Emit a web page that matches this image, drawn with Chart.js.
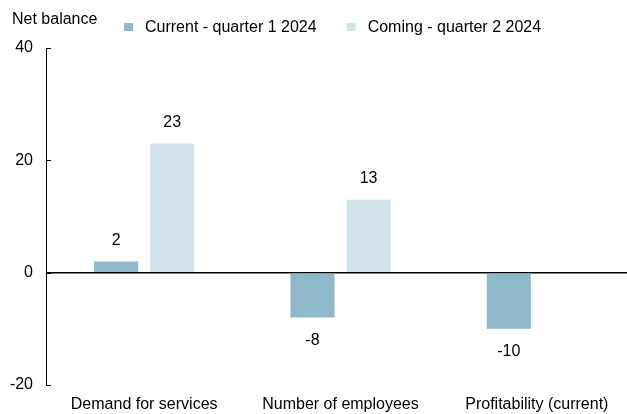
<!DOCTYPE html>
<html>
<head>
<meta charset="utf-8">
<script src="https://cdn.jsdelivr.net/npm/chart.js@4"></script>
<style>
  body { margin: 0; background: #fff; }
  #wrap { width: 627px; height: 414px; overflow: hidden; }
</style>
</head>
<body>
<div id="wrap"><canvas id="balance" width="636" height="414"></canvas></div>
<script>
const categories = ['Demand for services', 'Number of employees', 'Profitability (current)'];
const seriesNames = ['Current - quarter 1 2024', 'Coming - quarter 2 2024'];
const currentQ1 = [2, -8, -10];
const comingQ2 = [23, 13, null];
const yTicks = [-20, 0, 20, 40];
const unitLabel = 'Net balance';

const FONT = '"Liberation Sans", Arial, sans-serif';
const colors = ['#8fb8ca', '#d2e3ea'];

// title, legend, inward ticks and value labels
const extras = {
  id: 'extras',
  afterDraw: function (chart) {
    const ctx = chart.ctx;
    const y = chart.scales.y;
    const left = chart.chartArea.left;
    ctx.save();

    // short ticks pointing into the plot
    ctx.strokeStyle = '#000';
    ctx.lineWidth = 1;
    yTicks.forEach(function (v) {
      const py = Math.round(y.getPixelForValue(v)) + 0.5;
      ctx.beginPath();
      ctx.moveTo(left, py);
      ctx.lineTo(left + 5, py);
      ctx.stroke();
    });

    ctx.fillStyle = '#000';
    ctx.font = '16px ' + FONT;
    ctx.textBaseline = 'alphabetic';
    ctx.textAlign = 'left';
    ctx.fillText(unitLabel, 12, 24);

    // legend
    let x = 124;
    chart.data.datasets.forEach(function (ds) {
      ctx.fillStyle = ds.backgroundColor;
      ctx.fillRect(x, 23, 9, 8);
      ctx.fillStyle = '#000';
      ctx.fillText(ds.label, x + 21, 32);
      x += 21 + ctx.measureText(ds.label).width + 30;
    });

    // value labels
    ctx.textAlign = 'center';
    ctx.textBaseline = 'middle';
    chart.data.datasets.forEach(function (ds, i) {
      chart.getDatasetMeta(i).data.forEach(function (bar, j) {
        const v = ds.data[j];
        if (v === null) return;
        const ty = v >= 0 ? bar.y - 21 : bar.y + 23;
        ctx.fillText(String(v), bar.x, ty);
      });
    });
    ctx.restore();
  }
};

const data = {
  labels: categories,
  datasets: [{
    label: seriesNames[0],
    data: currentQ1,
    backgroundColor: colors[0]
  }, {
    label: seriesNames[1],
    data: comingQ2,
    backgroundColor: colors[1]
  }]
};

const config = {
  type: 'bar',
  data: data,
  options: {
    responsive: false,
    animation: false,
    layout: { padding: { top: 48, right: 1, bottom: 0, left: 0 } },
    datasets: {
      bar: { categoryPercentage: 0.571, barPercentage: 0.786 }
    },
    plugins: {
      legend: { display: false },
      tooltip: { enabled: false }
    },
    scales: {
      x: {
        grid: { display: false },
        border: { display: false },
        ticks: { color: '#000', font: { family: FONT, size: 16 }, padding: 2, maxRotation: 0, autoSkip: false },
        afterFit: function (scale) { scale.height = 29; }
      },
      y: {
        min: -20,
        max: 40,
        afterBuildTicks: function (scale) {
          scale.ticks = yTicks.map(function (v) { return { value: v }; });
        },
        grid: {
          drawTicks: false,
          lineWidth: 1.5,
          color: function (c) { return c.tick && c.tick.value === 0 ? '#000' : 'rgba(0,0,0,0)'; }
        },
        border: { display: true, color: '#000', width: 1 },
        ticks: { color: '#000', font: { family: FONT, size: 16 }, padding: 13 },
        afterFit: function (scale) { scale.width = 46; }
      }
    }
  },
  plugins: [extras]
};

const myChart = new Chart(document.getElementById('balance'), config);
</script>
</body>
</html>
